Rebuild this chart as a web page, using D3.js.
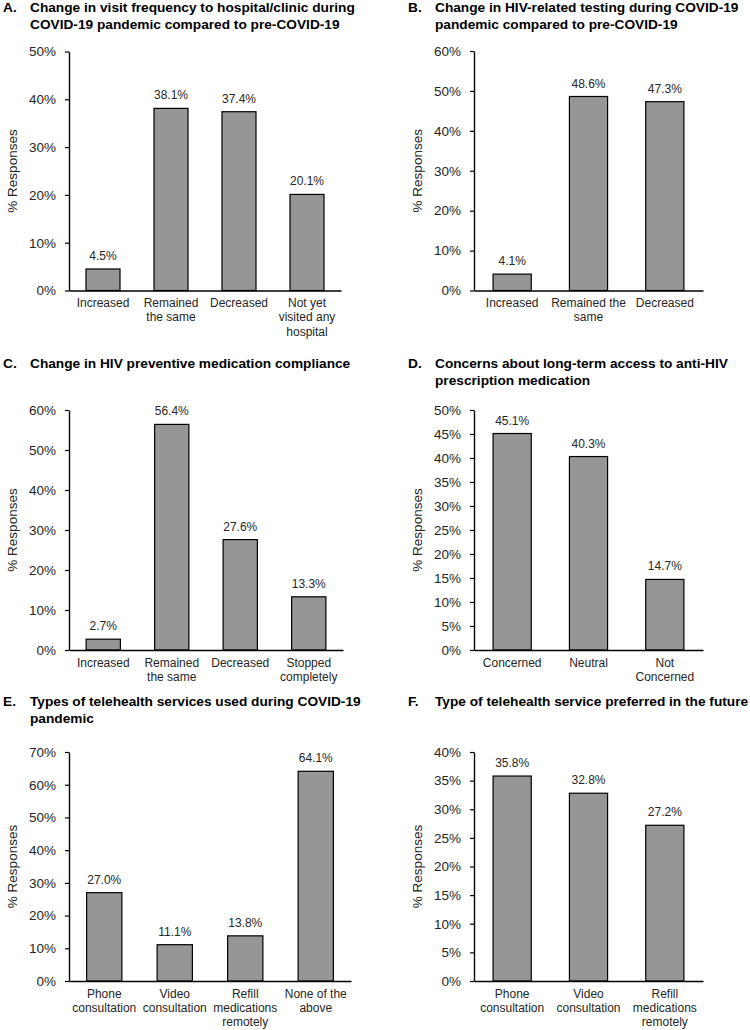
<!DOCTYPE html>
<html><head><meta charset="utf-8">
<script src="https://cdn.jsdelivr.net/npm/d3@7"></script>
<style>
body{margin:0;background:#fff}
svg{display:block}
text{font-family:Arial,"Liberation Sans",sans-serif}
</style></head><body>
<svg id="c" width="750" height="1030"></svg>
<script>
// ---- data ----
const titleA = ["Change in visit frequency to hospital/clinic during", "COVID-19 pandemic compared to pre-COVID-19"];
const catsA = ["Increased", "Remained the same", "Decreased", "Not yet visited any hospital"];
const valsA = [4.5, 38.1, 37.4, 20.1];
const ticksA = [0, 10, 20, 30, 40, 50];

const titleB = ["Change in HIV-related testing during COVID-19", "pandemic compared to pre-COVID-19"];
const catsB = ["Increased", "Remained the same", "Decreased"];
const valsB = [4.1, 48.6, 47.3];
const ticksB = [0, 10, 20, 30, 40, 50, 60];

const titleC = ["Change in HIV preventive medication compliance"];
const catsC = ["Increased", "Remained the same", "Decreased", "Stopped completely"];
const valsC = [2.7, 56.4, 27.6, 13.3];
const ticksC = [0, 10, 20, 30, 40, 50, 60];

const titleD = ["Concerns about long-term access to anti-HIV", "prescription medication"];
const catsD = ["Concerned", "Neutral", "Not Concerned"];
const valsD = [45.1, 40.3, 14.7];
const ticksD = [0, 5, 10, 15, 20, 25, 30, 35, 40, 45, 50];

const titleE = ["Types of telehealth services used during COVID-19", "pandemic"];
const catsE = ["Phone consultation", "Video consultation", "Refill medications remotely", "None of the above"];
const valsE = [27.0, 11.1, 13.8, 64.1];
const ticksE = [0, 10, 20, 30, 40, 50, 60, 70];

const titleF = ["Type of telehealth service preferred in the future"];
const catsF = ["Phone consultation", "Video consultation", "Refill medications remotely"];
const valsF = [35.8, 32.8, 27.2];
const ticksF = [0, 5, 10, 15, 20, 25, 30, 35, 40];

const yTitle = "% Responses";

// ---- layout ----
const panels = [
  {letter:"A.", title:titleA, cats:catsA, vals:valsA, ticks:ticksA, lx:3,   tx:30,  ty:12,  x0:69,  x1:341, y0:290.5, y1:51.5},
  {letter:"B.", title:titleB, cats:catsB, vals:valsB, ticks:ticksB, lx:408, tx:435, ty:12,  x0:474, x1:703, y0:290.5, y1:51},
  {letter:"C.", title:titleC, cats:catsC, vals:valsC, ticks:ticksC, lx:3,   tx:30,  ty:368, x0:69,  x1:343, y0:650, y1:410},
  {letter:"D.", title:titleD, cats:catsD, vals:valsD, ticks:ticksD, lx:408, tx:435, ty:368, x0:474, x1:703, y0:650, y1:410},
  {letter:"E.", title:titleE, cats:catsE, vals:valsE, ticks:ticksE, lx:3,   tx:30,  ty:706, x0:69,  x1:351, y0:981, y1:752},
  {letter:"F.", title:titleF, cats:catsF, vals:valsF, ticks:ticksF, lx:408, tx:435, ty:706, x0:474, x1:703, y0:981, y1:752}
];

const svg = d3.select("#c");
const textCol = "#262626";

function wrap(sel, width) {
  sel.each(function() {
    const t = d3.select(this);
    const words = t.text().split(/\s+/);
    const yv = t.attr("y"), dy = parseFloat(t.attr("dy")) || 0;
    t.text(null);
    let line = [], lineNo = 0;
    let ts = t.append("tspan").attr("x", 0).attr("y", yv).attr("dy", dy + "em");
    words.forEach(w => {
      line.push(w);
      ts.text(line.join(" "));
      if (ts.node().getComputedTextLength() > width && line.length > 1) {
        line.pop();
        ts.text(line.join(" "));
        line = [w];
        lineNo++;
        ts = t.append("tspan").attr("x", 0).attr("y", yv)
          .attr("dy", (lineNo * 1.2 + dy) + "em").text(w);
      }
    });
  });
}

panels.forEach(p => {
  const g = svg.append("g");
  // title
  g.append("text").attr("x", p.lx).attr("y", p.ty)
    .attr("font-size", 13.7).attr("font-weight", "bold").attr("fill", "#000").text(p.letter);
  p.title.forEach((ln, i) => {
    g.append("text").attr("x", p.tx).attr("y", p.ty + i * 16.6)
      .attr("font-size", 13.7).attr("font-weight", "bold").attr("fill", "#000").text(ln);
  });

  const y = d3.scaleLinear().domain([0, d3.max(p.ticks)]).range([p.y0, p.y1]);
  const x = d3.scaleBand().domain(p.cats).range([p.x0, p.x1]).paddingInner(0.5).paddingOuter(0.25);

  // y axis
  const ya = g.append("g").attr("transform", `translate(${p.x0},0)`)
    .call(d3.axisLeft(y).tickValues(p.ticks).tickFormat(d => d + "%").tickSize(4).tickSizeOuter(0).tickPadding(9));
  ya.select(".domain").attr("stroke", "#000").attr("stroke-width", 1.4);
  ya.selectAll(".tick line").attr("stroke", "#000").attr("stroke-width", 1.2);
  ya.selectAll(".tick text").attr("font-size", 13.5).attr("fill", textCol)
    .attr("font-family", "Arial, 'Liberation Sans', sans-serif");

  // bars
  g.selectAll("rect.bar").data(p.vals).enter().append("rect")
    .attr("class", "bar")
    .attr("x", (d, i) => x(p.cats[i]))
    .attr("width", x.bandwidth())
    .attr("y", d => y(d))
    .attr("height", d => y(0) - y(d))
    .attr("fill", "#969696").attr("stroke", "#000").attr("stroke-width", 1.2);

  // value labels
  g.selectAll("text.val").data(p.vals).enter().append("text")
    .attr("class", "val")
    .attr("x", (d, i) => x(p.cats[i]) + x.bandwidth() / 2)
    .attr("y", d => y(d) - 9)
    .attr("text-anchor", "middle").attr("font-size", 12).attr("fill", textCol)
    .text(d => d3.format(".1f")(d) + "%");

  // x axis
  const xa = g.append("g").attr("transform", `translate(0,${p.y0})`)
    .call(d3.axisBottom(x).tickSize(0).tickSizeOuter(0).tickPadding(8));
  xa.select(".domain").attr("stroke", "#000").attr("stroke-width", 1.4);
  xa.selectAll(".tick text").attr("font-size", 12).attr("fill", textCol)
    .attr("font-family", "Arial, 'Liberation Sans', sans-serif")
    .call(wrap, x.step() - 1);

  // y title
  g.append("text")
    .attr("transform", `translate(${p.x0 - 52},${(p.y0 + p.y1) / 2}) rotate(-90)`)
    .attr("text-anchor", "middle").attr("font-size", 13.5).attr("fill", textCol)
    .text(yTitle);
});
</script>
</body></html>
